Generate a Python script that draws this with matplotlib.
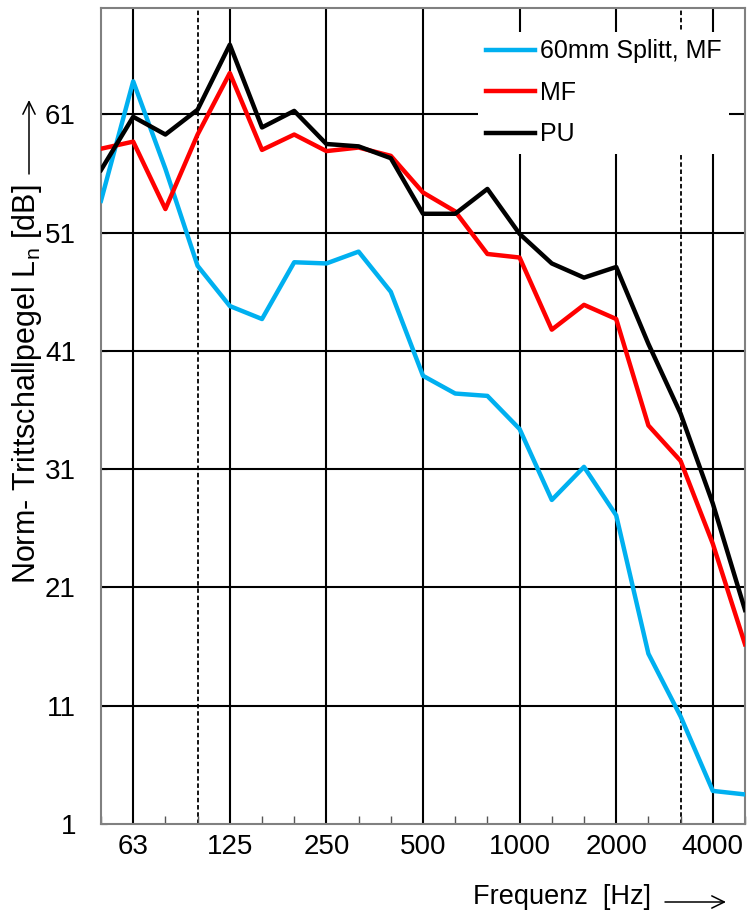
import matplotlib
matplotlib.use("Agg")
import matplotlib.pyplot as plt

plt.rcParams["font.family"] = ["Liberation Sans", "DejaVu Sans"]

# third-octave bands, 50 Hz .. 5000 Hz
bands = ["50", "63", "80", "100", "125", "160", "200", "250", "315", "400",
         "500", "630", "800", "1000", "1250", "1600", "2000", "2500", "3150",
         "4000", "5000"]
labelled = ["63", "125", "250", "500", "1000", "2000", "4000"]
dashed = ["100", "3150"]

splitt_mf = [53.7, 63.8, 56.4, 48.2, 44.8, 43.7, 48.5, 48.4, 49.4, 46.0, 38.9,
             37.4, 37.2, 34.4, 28.4, 31.2, 27.1, 15.4, 10.1, 3.8, 3.5]
mf = [58.1, 58.7, 53.0, 59.3, 64.5, 58.0, 59.3, 57.9, 58.2, 57.5, 54.4,
      52.8, 49.2, 48.9, 42.8, 44.9, 43.7, 34.7, 31.7, 24.7, 16.2]
pu = [56.3, 60.8, 59.3, 61.4, 66.9, 59.9, 61.3, 58.5, 58.3, 57.3, 52.6,
      52.6, 54.7, 50.9, 48.4, 47.2, 48.1, 41.6, 35.7, 28.1, 19.1]

y_ticks = [1, 11, 21, 31, 41, 51, 61]

W, H = 747, 916
fig = plt.figure(figsize=(W / 100, H / 100), dpi=100)
ax = fig.add_axes([101 / W, 1 - 824 / H, 644 / W, 816 / H])

x = list(range(len(bands)))

# grid
for b in labelled:
    ax.axvline(bands.index(b), color="black", lw=1.5, zorder=1)
for b in dashed:
    ax.axvline(bands.index(b), color="black", lw=1.3, ls=(0, (2.5, 1.5)), zorder=1)
for v in y_ticks[1:]:
    ax.axhline(v, color="black", lw=1.5, zorder=1)

ax.plot(x, splitt_mf, color="#00B0F0", lw=3.2, label="60mm Splitt, MF", zorder=3)
ax.plot(x, mf, color="#FF0000", lw=3.2, label="MF", zorder=3)
ax.plot(x, pu, color="black", lw=3.2, label="PU", zorder=3)

ax.set_xlim(0, len(bands) - 1)
ax.set_ylim(1, 70)

ax.set_xticks([bands.index(b) for b in labelled])
ax.set_xticklabels(labelled)
ax.set_xticks(x, minor=True)
ax.tick_params(axis="x", which="major", length=0, pad=7, labelsize=20)
ax.tick_params(axis="x", which="minor", direction="in", length=6, width=1,
               color="#555555")
ax.set_yticks(y_ticks)
ax.tick_params(axis="y", which="major", direction="in", length=4, pad=18,
               labelsize=20)

for side in ["left", "top", "right", "bottom"]:
    ax.spines[side].set_color("#808080")
    ax.spines[side].set_linewidth(1.5)

leg = ax.legend(loc="upper right", bbox_to_anchor=(0.994, 0.986),
                fontsize=18, frameon=True, fancybox=False, framealpha=1,
                edgecolor="none", handlelength=1.95, handletextpad=0.2,
                labelspacing=0.7, borderpad=0.3)
leg.set_zorder(5)

# axis titles
fig.text(27 / W, 1 - 384 / H, r"Norm- Trittschallpegel L$_\mathregular{n}$ [dB]",
         rotation=90, ha="center", va="center", fontsize=22)
fig.text(473 / W, 1 - 897 / H, "Frequenz  [Hz]", ha="left", va="center",
         fontsize=19.5)

arrow = dict(arrowstyle="->,head_length=0.45,head_width=0.22", lw=1.1,
             color="black", mutation_scale=20, shrinkA=0, shrinkB=0)
fig.add_artist(plt.Annotation("", xy=(29 / W, 1 - 100 / H),
                              xytext=(29 / W, 1 - 174 / H),
                              xycoords="figure fraction", arrowprops=arrow))
fig.add_artist(plt.Annotation("", xy=(726 / W, 1 - 902 / H),
                              xytext=(665 / W, 1 - 902 / H),
                              xycoords="figure fraction", arrowprops=arrow))

fig.savefig("out.png", dpi=100)
